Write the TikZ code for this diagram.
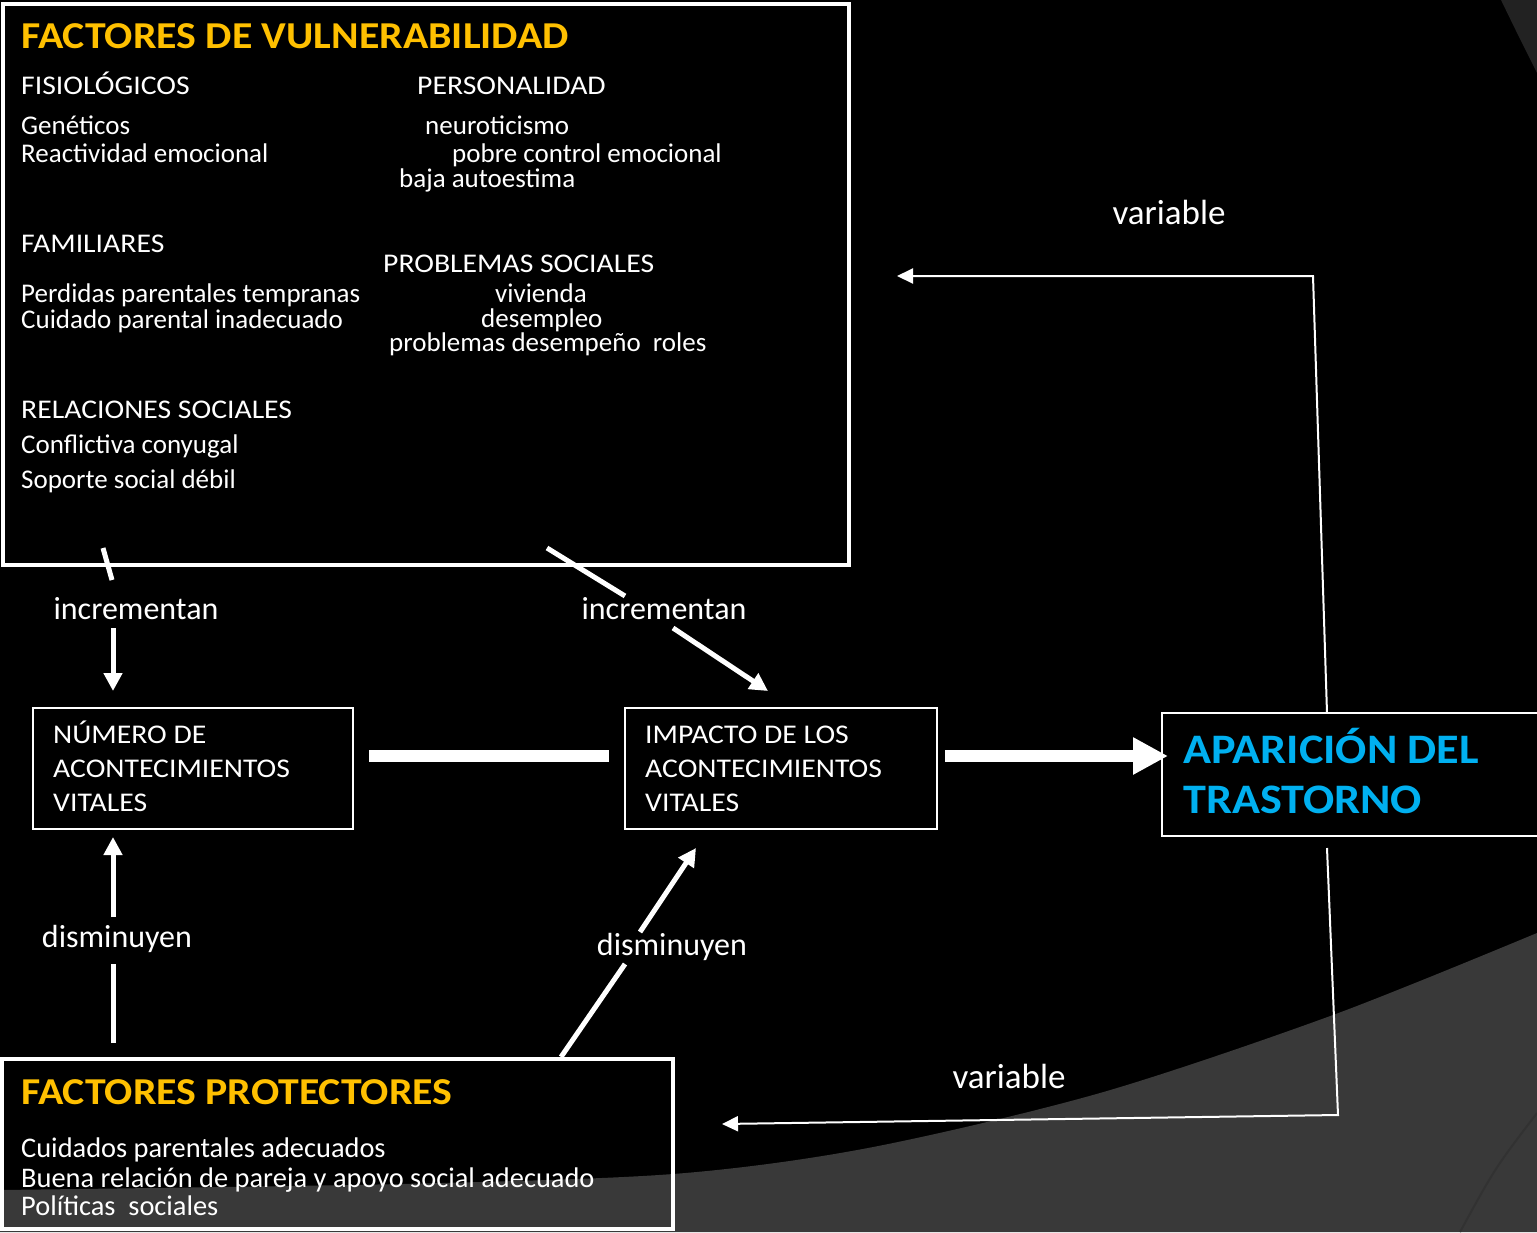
\documentclass[tikz,border=0pt]{standalone}
\usepackage{fontspec}
\setmainfont{Carlito}
\newfontfamily\capsfont[FakeStretch=1.1]{Carlito}
\usetikzlibrary{arrows.meta}
\definecolor{orng}{HTML}{FFC000}
\definecolor{cyn}{HTML}{00B0F0}
\definecolor{gry}{HTML}{393939}
\definecolor{wedgec}{HTML}{222222}
\definecolor{shadec}{HTML}{323232}
\begin{document}
\begin{tikzpicture}[x=1pt,y=-1pt,
 txt/.style={anchor=base west, inner sep=0, text=white, font=\fontsize{27}{32}\selectfont},
 ptxt/.style={anchor=base west, inner sep=0, text=white, font=\fontsize{28.4}{32}\selectfont},
 captxt/.style={anchor=base west, inner sep=0, text=white, font=\capsfont\fontsize{27}{32}\selectfont},
 ttl/.style={anchor=base west, inner sep=0, text=orng, font=\capsfont\fontsize{38}{44}\selectfont\bfseries},
 apatxt/.style={anchor=base west, inner sep=0, text=cyn, font=\capsfont\fontsize{42}{48}\selectfont\bfseries},
 lbl/.style={anchor=base, inner sep=0, text=white, font=\fontsize{32}{38}\selectfont},
 varl/.style={anchor=base, inner sep=0, text=white, font=\fontsize{35}{40}\selectfont},
 bigbox/.style={draw=white, line width=4pt, inner sep=0, outer sep=0, anchor=north west},
 evbox/.style={draw=white, line width=2pt, inner sep=0, outer sep=0, anchor=north west, fill=black},
 medline/.style={draw=white, line width=5pt},
 medarrow/.style={draw=white, line width=5pt, -{Triangle[length=18pt,width=18pt]}},
 fatline/.style={draw=white, line width=12pt},
 fatarrow/.style={draw=white, line width=12pt, -{Triangle[length=35pt,width=35pt]}},
 thinarrow/.style={draw=white, line width=2pt, -{Triangle[length=16pt,width=15pt]}}
]
% background
\fill[black] (0,0) rectangle (1537,1232);
\useasboundingbox (0,0) rectangle (1537,1232);
\fill[gry] plot[smooth] coordinates {(0,1190) (400,1184) (673,1174) (868,1148) (1100,1093) (1333,1015) (1537,933)} -- (1537,1232) -- (0,1232) -- cycle;
\fill[wedgec] (1501,0) .. controls (1518,35) .. (1537,73) -- (1537,0) -- cycle;
\draw[shadec, line width=2pt] (1460,1232) .. controls (1495,1168) .. (1537,1113);

% boxes
\node[bigbox, fill=black, minimum width=846pt, minimum height=561pt] (vul) at (3,4) {};
\node[bigbox, minimum width=671pt, minimum height=170pt] (prot) at (2,1059) {};
\node[evbox, minimum width=320pt, minimum height=121pt] (num) at (33,708) {};
\node[evbox, minimum width=312pt, minimum height=121pt] (imp) at (625,708) {};
\node[evbox, minimum width=380pt, minimum height=123pt] (apa) at (1162,713) {};

% vulnerability texts
\node[ttl] (t1) at (21,48) {FACTORES DE VULNERABILIDAD};
\node[captxt] (f1) at (21,94) {FISIOLÓGICOS};
\node[captxt] (p1) at (417,94) {PERSONALIDAD};
\node[txt] (f2) at (21,134) {Genéticos};
\node[txt] (f3) at (21,162) {Reactividad emocional};
\node[txt] (p2) at (425,134) {neuroticismo};
\node[txt] (p3) at (452,162) {pobre control emocional};
\node[txt] (p4) at (399,187) {baja autoestima};
\node[captxt] (fa1) at (21,252) {FAMILIARES};
\node[captxt] (ps1) at (383,272) {PROBLEMAS SOCIALES};
\node[txt] (fa2) at (21,302) {Perdidas parentales tempranas};
\node[txt] (fa3) at (21,328) {Cuidado parental inadecuado};
\node[txt] (ps2) at (495,302) {vivienda};
\node[txt] (ps3) at (481,327) {desempleo};
\node[txt] (ps4) at (389,351) {problemas desempeño\ \ roles};
\node[captxt] (r1) at (21,418) {RELACIONES SOCIALES};
\node[txt] (r2) at (21,453) {Conflictiva conyugal};
\node[txt] (r3) at (21,488) {Soporte social débil};

% event boxes texts
\node[captxt] (n1) at (53,743) {NÚMERO DE};
\node[captxt] (n2) at (53,777) {ACONTECIMIENTOS};
\node[captxt] (n3) at (53,811) {VITALES};
\node[captxt] (i1) at (645,743) {IMPACTO DE LOS};
\node[captxt] (i2) at (645,777) {ACONTECIMIENTOS};
\node[captxt] (i3) at (645,811) {VITALES};
\node[apatxt] (a1) at (1183,763) {APARICIÓN DEL};
\node[apatxt] (a2) at (1183,813) {TRASTORNO};

% protective texts
\node[ttl] (t2) at (21,1104) {FACTORES PROTECTORES};
\node[ptxt] (pr1) at (21,1157) {Cuidados parentales adecuados};
\node[ptxt] (pr2) at (21,1187) {Buena relación de pareja y apoyo social adecuado};
\node[ptxt] (pr3) at (21,1215) {Políticas\ \ sociales};

% labels
\node[lbl] (inc1) at (136,619) {incrementan};
\node[lbl] (inc2) at (664,619) {incrementan};
\node[lbl] (dis1) at (117,947) {disminuyen};
\node[lbl] (dis2) at (672,955) {disminuyen};
\node[varl] (var1) at (1169,224) {variable};
\node[varl] (var2) at (1009,1088) {variable};

% connector points
\coordinate (c1a) at (103,548); \coordinate (c1b) at (112,580);
\coordinate (c1c) at (113,628); \coordinate (c1d) at (113,691);
\coordinate (c2a) at (547,548); \coordinate (c2b) at (625,596);
\coordinate (c2c) at (673,628); \coordinate (c2d) at (768,691);
\coordinate (d1a) at (113,1043); \coordinate (d1b) at (113,964);
\coordinate (d1c) at (113,917); \coordinate (d1d) at (113,837);
\coordinate (d2a) at (561,1057); \coordinate (d2b) at (625,964);
\coordinate (d2c) at (640,932); \coordinate (d2d) at (696,848);
\coordinate (barL) at (369,756); \coordinate (barR) at (609,756);
\coordinate (fatS) at (945,756); \coordinate (fatE) at (1168,756);
\coordinate (v1a) at (1327,713); \coordinate (v1b) at (1313,276); \coordinate (v1c) at (897,276);
\coordinate (v2a) at (1327,848); \coordinate (v2b) at (1338,1115); \coordinate (v2c) at (722,1124);

% connectors
\draw[medline] (c1a) -- (c1b);
\draw[medarrow] (c1c) -- (c1d);
\draw[medline] (c2a) -- (c2b);
\draw[medarrow] (c2c) -- (c2d);
\draw[medline] (d1a) -- (d1b);
\draw[medarrow] (d1c) -- (d1d);
\draw[medline] (d2a) -- (d2b);
\draw[medarrow] (d2c) -- (d2d);
\draw[fatline] (barL) -- (barR);
\draw[fatarrow] (fatS) -- (fatE);
\draw[thinarrow] (v1a) -- (v1b) -- (v1c);
\draw[thinarrow] (v2a) -- (v2b) -- (v2c);
\end{tikzpicture}
\end{document}
